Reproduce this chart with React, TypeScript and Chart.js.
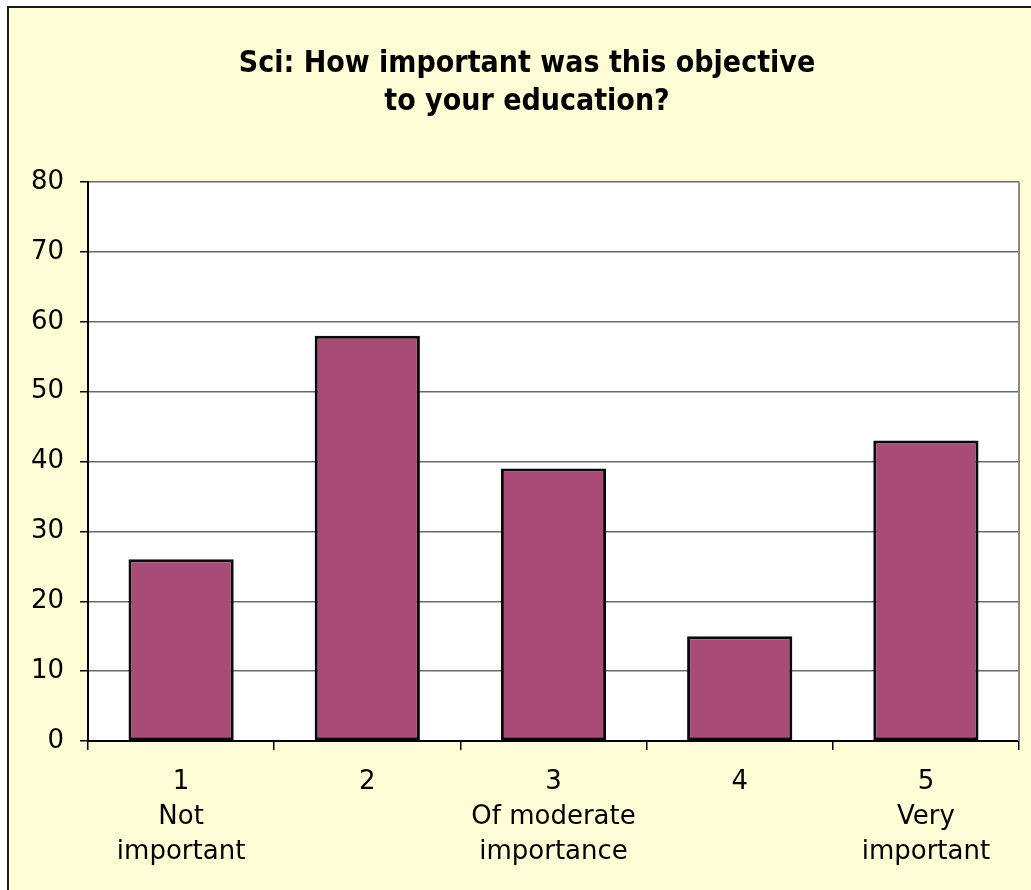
import { useEffect, useRef } from "react";
import { Chart, registerables } from "chart.js";

Chart.register(...registerables);

const titleLines = ["Sci: How important was this objective", "to your education?"];
const categories = [
  ["1", "Not", "important"],
  ["2"],
  ["3", "Of moderate", "importance"],
  ["4"],
  ["5", "Very", "important"],
];
const values = [26, 58, 39, 15, 43];
const yMin = 0;
const yMax = 80;
const yStep = 10;

const FONT = '"DejaVu Sans", Verdana, sans-serif';
const TITLE_FONT = '"DejaVu Sans Condensed", "Liberation Sans Narrow", "DejaVu Sans", sans-serif';

const framePlugin = {
  id: "frame",
  beforeDraw(chart: any) {
    const { ctx, width, height, chartArea } = chart;
    ctx.save();
    ctx.fillStyle = "#ffffff";
    ctx.fillRect(0, 0, width, height);
    ctx.fillStyle = "#fffdd5";
    ctx.fillRect(7, 6, width - 7, height - 6);
    ctx.strokeStyle = "#1a1a1a";
    ctx.lineWidth = 2;
    ctx.beginPath();
    ctx.moveTo(8, height);
    ctx.lineTo(8, 7);
    ctx.lineTo(width, 7);
    ctx.stroke();
    ctx.fillStyle = "#ffffff";
    ctx.fillRect(chartArea.left, chartArea.top, chartArea.right - chartArea.left, chartArea.bottom - chartArea.top);
    ctx.fillStyle = "#000000";
    ctx.font = `bold 30px ${TITLE_FONT}`;
    ctx.textAlign = "center";
    ctx.textBaseline = "alphabetic";
    ctx.fillText(titleLines[0], 527, 72);
    ctx.fillText(titleLines[1], 527, 110);
    ctx.restore();
  },
  afterDraw(chart: any) {
    const { ctx, chartArea } = chart;
    ctx.save();
    ctx.strokeStyle = "#8a8a8a";
    ctx.lineWidth = 2;
    ctx.beginPath();
    ctx.moveTo(chartArea.right, chartArea.top);
    ctx.lineTo(chartArea.right, chartArea.bottom);
    ctx.stroke();
    ctx.restore();
  },
};

export default function App() {
  const ref = useRef<HTMLCanvasElement | null>(null);
  useEffect(() => {
    if (!ref.current) return;
    const chart = new Chart(ref.current, {
      type: "bar",
      data: {
        labels: categories,
        datasets: [
          {
            data: values,
            backgroundColor: "#a94b77",
            borderColor: "#0a0a0a",
            borderWidth: 3,
            borderSkipped: false,
            barPercentage: 0.565,
            categoryPercentage: 1,
          },
        ],
      },
      options: {
        responsive: false,
        animation: false,
        layout: { padding: { top: 182, right: 12, left: 0, bottom: 0 } },
        plugins: {
          legend: { display: false },
          title: { display: false },
          tooltip: { enabled: false },
        },
        scales: {
          x: {
            offset: true,
            grid: {
              offset: true,
              drawOnChartArea: false,
              drawTicks: true,
              tickLength: 9,
              tickColor: "#000000",
              lineWidth: 1.5,
            },
            border: { color: "#000000", width: 2 },
            ticks: {
              color: "#000000",
              font: { family: FONT, size: 26, lineHeight: 1.346 },
              padding: 15,
              maxRotation: 0,
              autoSkip: false,
            },
            afterFit: (s: any) => {
              s.height = 149;
            },
          },
          y: {
            min: yMin,
            max: yMax,
            grid: {
              color: "#6a6a6a",
              lineWidth: 1.5,
              tickLength: 8,
              tickColor: "#000000",
            },
            border: { color: "#000000", width: 2 },
            ticks: {
              stepSize: yStep,
              color: "#000000",
              font: { family: FONT, size: 26 },
              padding: 16,
            },
            afterFit: (s: any) => {
              s.width = 88;
            },
          },
        },
      },
      plugins: [framePlugin],
    });
    return () => chart.destroy();
  }, []);
  return (
    <div style={{ position: "absolute", left: 0, top: 0, width: 1031, height: 890 }}>
      <canvas ref={ref} width={1031} height={890} style={{ display: "block" }} />
    </div>
  );
}
